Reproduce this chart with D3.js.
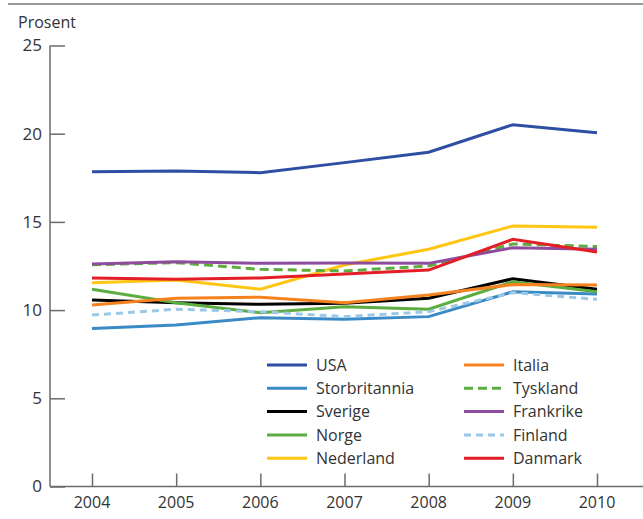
<!DOCTYPE html>
<html>
<head>
<meta charset="utf-8">
<script src="https://cdn.jsdelivr.net/npm/d3@7"></script>
<style>
  html, body { margin: 0; padding: 0; background: #fff; }
  svg { display: block; }
  text { font-family: "Open Sans", "Noto Sans", sans-serif; fill: #333; }
</style>
</head>
<body>
<svg id="chart" width="643" height="519"></svg>
<script>
// ---- data ----
const years = [2004, 2005, 2006, 2007, 2008, 2009, 2010];
const yTicks = [0, 5, 10, 15, 20, 25];
const yLabel = "Prosent";

const USA           = [17.85, 17.89, 17.79, 18.36, 18.95, 20.51, 20.06];
const Storbritannia = [8.95, 9.16, 9.57, 9.48, 9.63, 11.04, 10.91];
const Sverige       = [10.57, 10.42, 10.33, 10.39, 10.67, 11.78, 11.18];
const Norge         = [11.18, 10.42, 9.85, 10.19, 10.05, 11.61, 11.04];
const Nederland     = [11.55, 11.71, 11.18, 12.56, 13.45, 14.77, 14.69];
const Italia        = [10.29, 10.67, 10.73, 10.42, 10.86, 11.45, 11.42];
const Tyskland      = [12.57, 12.69, 12.31, 12.22, 12.5, 13.75, 13.6];
const Frankrike     = [12.61, 12.74, 12.65, 12.67, 12.65, 13.54, 13.45];
const Finland       = [9.72, 10.05, 9.91, 9.63, 9.91, 10.99, 10.61];
const Danmark       = [11.82, 11.75, 11.82, 12.05, 12.27, 14.01, 13.29];

const seriesNames = ["USA", "Storbritannia", "Sverige", "Norge", "Nederland",
                     "Italia", "Tyskland", "Frankrike", "Finland", "Danmark"];
const seriesValues = [USA, Storbritannia, Sverige, Norge, Nederland,
                      Italia, Tyskland, Frankrike, Finland, Danmark];

// ---- styles ----
const colors = {
  USA: "#2e4ea3", Storbritannia: "#3a8ac6", Sverige: "#000000", Norge: "#5cad3f",
  Nederland: "#ffc611", Italia: "#f5821f", Tyskland: "#5cad3f", Frankrike: "#8f4b9e",
  Finland: "#9cc8e8", Danmark: "#e41e26"
};
const dashes = { Tyskland: "9,5", Finland: "7,5" };

const svg = d3.select("#chart");

const x = d3.scalePoint().domain(years).range([92, 597]);
const y = d3.scaleLinear().domain([0, 25]).range([486.5, 45.5]);

const axisColor = "#6b6b6b";

// top rule
svg.append("line")
  .attr("x1", 8).attr("x2", 643).attr("y1", 4).attr("y2", 4)
  .attr("stroke", "#777").attr("stroke-width", 1.5);

// y label
svg.append("text").attr("x", 18).attr("y", 28)
  .attr("font-size", 16).text(yLabel);

// y axis
const yAxis = d3.axisRight(y).tickValues(yTicks).tickSize(15).tickFormat("");
const gy = svg.append("g").attr("transform", "translate(50,0)").call(yAxis);
gy.select(".domain").attr("stroke", axisColor).attr("stroke-width", 1.5)
  .attr("d", `M0,${y(25)}V${y(0)}`);
gy.selectAll(".tick line").attr("stroke", axisColor).attr("stroke-width", 1.5);

svg.append("g").selectAll("text").data(yTicks).join("text")
  .attr("x", 42).attr("y", d => y(d)).attr("dy", "0.35em")
  .attr("text-anchor", "end").attr("font-size", 17).text(d => d);

// x axis
const xAxis = d3.axisTop(x).tickSize(13).tickFormat("");
const gx = svg.append("g").attr("transform", `translate(0,${y(0)})`).call(xAxis);
gx.select(".domain").attr("stroke", axisColor).attr("stroke-width", 1.5)
  .attr("d", "M50,0H643");
gx.selectAll(".tick line").attr("stroke", axisColor).attr("stroke-width", 1.5);

svg.append("g").selectAll("text").data(years).join("text")
  .attr("x", d => x(d)).attr("y", 508)
  .attr("text-anchor", "middle").attr("font-size", 16).text(d => d);

// lines
const line = d3.line().x((d, i) => x(years[i])).y(d => y(d));
seriesNames.forEach((name, k) => {
  svg.append("path")
    .attr("d", line(seriesValues[k]))
    .attr("fill", "none")
    .attr("stroke", colors[name])
    .attr("stroke-width", 3)
    .attr("stroke-linejoin", "miter")
    .attr("stroke-dasharray", dashes[name] || null);
});

// legend
const legCols = [{lx: 267, tx: 316}, {lx: 464, tx: 513}];
const legRow0 = 365, legRowH = 23.3;
seriesNames.forEach((name, k) => {
  const col = legCols[Math.floor(k / 5)];
  const yy = legRow0 + (k % 5) * legRowH;
  svg.append("line")
    .attr("x1", col.lx).attr("x2", col.lx + 40).attr("y1", yy).attr("y2", yy)
    .attr("stroke", colors[name]).attr("stroke-width", 3)
    .attr("stroke-dasharray", dashes[name] || null);
  svg.append("text").attr("x", col.tx).attr("y", yy).attr("dy", "0.35em")
    .attr("font-size", 16).text(name);
});
</script>
</body>
</html>
